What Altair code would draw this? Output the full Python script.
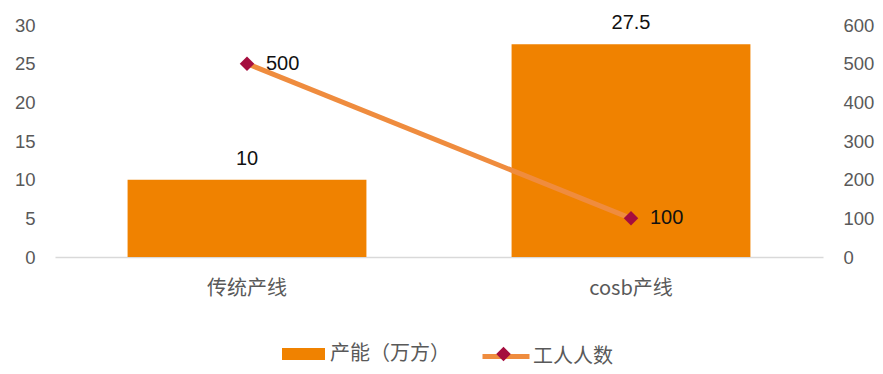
import altair as alt
import pandas as pd

categories = ["传统产线", "cosb产线"]
capacity = [10, 27.5]
workers = [500, 100]
bar_series_name = "产能（万方）"
line_series_name = "工人人数"

left_ticks = [0, 5, 10, 15, 20, 25, 30]
right_ticks = [0, 100, 200, 300, 400, 500, 600]

BAR = "#F08200"
LINE = "#EF8C3E"
DIAMOND = "#A50D3E"
GRAY = "#595959"
FONT = "Liberation Sans, Arial, Noto Sans CJK SC"
CJK = "Noto Sans CJK SC, Liberation Sans"

df = pd.DataFrame({
    "cat": categories,
    "capacity": capacity,
    "workers": workers,
    "bar_series": [bar_series_name] * 2,
    "line_series": [line_series_name] * 2,
    "pt_series": [line_series_name + " "] * 2,
})

base = alt.Chart(df)

x_enc = alt.X(
    "cat:N",
    sort=categories,
    scale=alt.Scale(paddingInner=0.378, paddingOuter=0.189),
    axis=alt.Axis(
        title=None, labelAngle=0, ticks=False, domainColor="#d9d9d9",
        domainWidth=1.5, labelFontSize=20, labelColor=GRAY, labelFont=CJK,
        labelPadding=21,
    ),
)

y_left = alt.Y(
    "capacity:Q",
    scale=alt.Scale(domain=[0, 30]),
    axis=alt.Axis(
        values=left_ticks, title=None, grid=False, domain=False, ticks=False,
        labelPadding=20, labelFontSize=18.5, labelColor=GRAY, labelFont=FONT,
    ),
)
y_right = alt.Y(
    "workers:Q",
    scale=alt.Scale(domain=[0, 600]),
    axis=alt.Axis(
        orient="right", values=right_ticks, title=None, grid=False,
        domain=False, ticks=False, labelPadding=20, labelFontSize=18.5,
        labelColor=GRAY, labelFont=FONT,
    ),
)

bars = base.mark_bar().encode(
    x=x_enc,
    y=y_left,
    color=alt.Color(
        "bar_series:N",
        scale=alt.Scale(range=[BAR]),
        legend=alt.Legend(
            orient="none", legendX=227, legendY=307.5, title=None, padding=0,
            symbolType="M-1,-0.28H1V0.28H-1Z", symbolSize=1849,
            symbolStrokeWidth=0, symbolOpacity=1, labelOffset=5,
            labelFont=CJK, labelFontSize=20, labelColor=GRAY,
        ),
    ),
)

bar_text = base.mark_text(
    baseline="alphabetic", dy=-15, fontSize=20, font=FONT, color="#111111"
).encode(
    x=x_enc,
    y=y_left,
    text=alt.Text("capacity:Q", format="~g"),
)

line = base.mark_line(strokeWidth=5).encode(
    x=x_enc,
    y=y_right,
    stroke=alt.Stroke(
        "line_series:N",
        scale=alt.Scale(range=[LINE]),
        legend=alt.Legend(
            orient="none", legendX=425, legendY=305.5, title=None, padding=0,
            symbolType="stroke", symbolSize=2209, symbolStrokeWidth=5,
            labelOffset=1, labelFont=CJK, labelFontSize=20, labelColor=GRAY,
        ),
    ),
)

points = base.mark_point(filled=True, shape="diamond", size=210, opacity=1).encode(
    x=x_enc,
    y=y_right,
    fill=alt.Fill(
        "pt_series:N",
        scale=alt.Scale(range=[DIAMOND]),
        legend=alt.Legend(
            orient="none", legendX=441, legendY=321.5, title=None, padding=0,
            symbolType="diamond", symbolSize=210, symbolStrokeWidth=0,
            symbolOpacity=1, labelExpr="''",
        ),
    ),
)

line_text = base.mark_text(
    align="left", baseline="middle", dx=19, fontSize=20, font=FONT, color="#111111"
).encode(
    x=x_enc,
    y=y_right,
    text=alt.Text("workers:Q", format="~g"),
)

left_layer = alt.layer(bars, bar_text)
right_layer = alt.layer(line, points, line_text)

chart = (
    alt.layer(left_layer, right_layer)
    .resolve_scale(y="independent")
    .properties(
        width=768,
        height=232,
        autosize=alt.AutoSizeParams(type="none"),
        padding={"left": 55, "top": 25, "right": 60, "bottom": 117},
    )
    .configure_view(stroke=None)
)

chart.save("out.html", embed_options={"renderer": "svg", "actions": False})
